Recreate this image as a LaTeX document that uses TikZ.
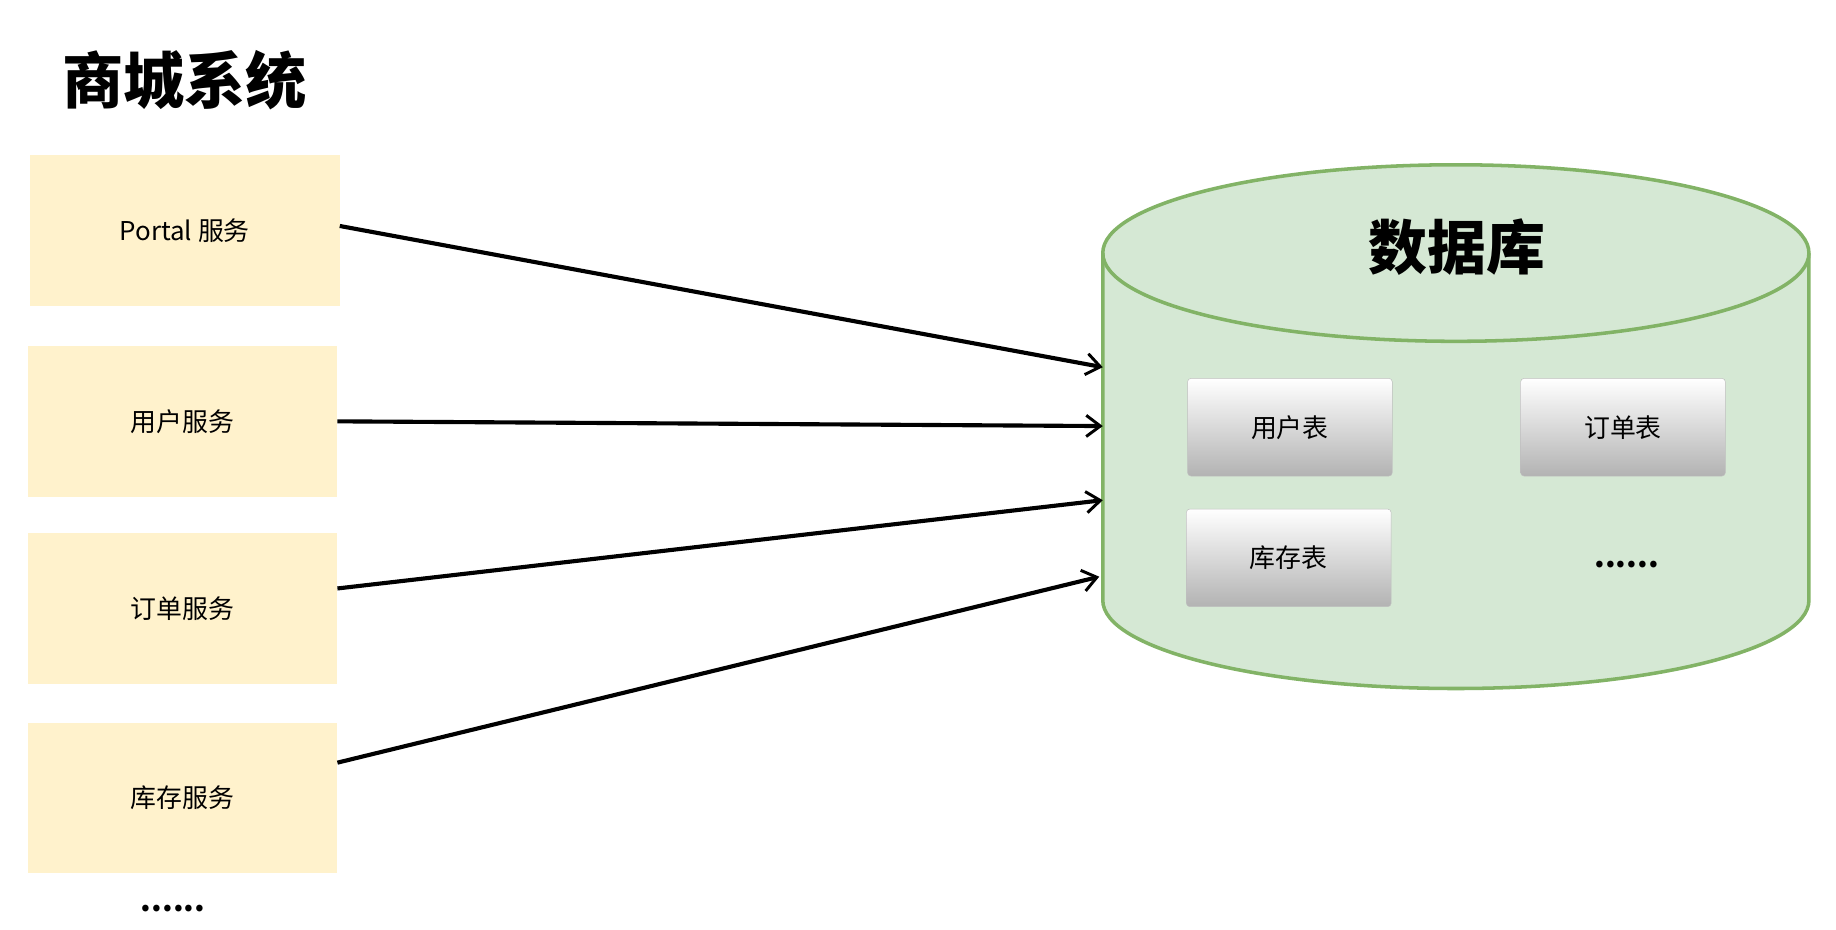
\documentclass[tikz,border=0pt]{standalone}
\usepackage{fontspec}
\setmainfont{Noto Sans CJK SC}
\usetikzlibrary{arrows.meta,shapes.geometric}
\definecolor{yel}{HTML}{FFF2CC}
\definecolor{grn}{HTML}{D5E8D4}
\definecolor{grnd}{HTML}{82B366}
\tikzset{
 svc/.style={fill=yel,minimum width=263pt,minimum height=128pt,font=\fontsize{22pt}{24pt}\selectfont},
 tbl/.style={top color=white,bottom color=black!30,draw=black!25,rounded corners=3pt,minimum width=174pt,minimum height=83pt,font=\fontsize{22pt}{24pt}\selectfont},
 arr/.style={draw=black,line width=3.5pt,-{Straight Barb[length=12pt,width=18pt,line width=2.5pt]}}
}
\begin{document}
\begin{tikzpicture}[x=1pt,y=-1pt]
\useasboundingbox (0,0) rectangle (1560,790);
\node[font=\fontsize{52pt}{54pt}\selectfont\bfseries] (title) at (157,68) {商城系统};
\node[svc] (s1) at (157,196) {Portal 服务};
\node[svc] (s2) at (155,358) {用户服务};
\node[svc] (s3) at (155,517) {订单服务};
\node[svc] (s4) at (155,678) {库存服务};
\node[font=\fontsize{26pt}{26pt}\selectfont\bfseries] (dots1) at (147,772) {......};
% cylinder
\fill[grn] (937,215) -- (937,510) arc[start angle=180,end angle=360,x radius=300,y radius=-75] -- (1537,215) arc[start angle=0,end angle=180,x radius=300,y radius=-75] -- cycle;
\draw[grnd,line width=3pt] (937,215) -- (937,510) arc[start angle=180,end angle=360,x radius=300,y radius=-75] -- (1537,215);
\draw[grnd,line width=3pt] (1237,215) ellipse[x radius=300,y radius=75];
\node[font=\fontsize{50pt}{52pt}\selectfont\bfseries] (db) at (1238,210) {数据库};
\coordinate (t1) at (937,312);
\coordinate (t2) at (937,362);
\coordinate (t3) at (937,425);
\coordinate (t4) at (934,490);
\node[tbl] (u) at (1096,363) {用户表};
\node[tbl] (o) at (1379,363) {订单表};
\node[tbl] (k) at (1095,474) {库存表};
\node[font=\fontsize{26pt}{26pt}\selectfont\bfseries] (dots2) at (1382,480) {......};
\draw[arr] ([yshift=4pt]s1.east) -- (t1);
\draw[arr] (s2.east) -- (t2);
\draw[arr] ([yshift=17pt]s3.east) -- (t3);
\draw[arr] ([yshift=30pt]s4.east) -- (t4);
\end{tikzpicture}
\end{document}
